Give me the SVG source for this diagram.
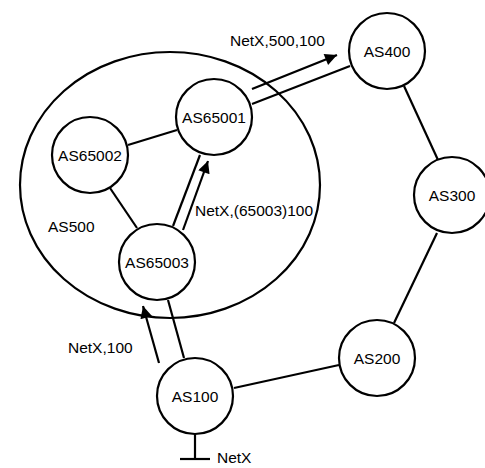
<svg xmlns="http://www.w3.org/2000/svg" width="485" height="468" viewBox="0 0 485 468">
<style>
.n{fill:#fff;stroke:#000;stroke-width:2.2}
.l{fill:none;stroke:#000;stroke-width:2.2}
text{font-family:"Liberation Sans",Arial,sans-serif;font-size:15.5px;fill:#000}
.c{text-anchor:middle;dominant-baseline:central}
</style>
<defs>
<marker id="ah" viewBox="0 0 10 10" refX="10" refY="5" markerWidth="16" markerHeight="12" markerUnits="userSpaceOnUse" orient="auto">
<path d="M0,0 L10,5 L0,10 z" fill="#000"/>
</marker>
</defs>
<g id="AS500">
<ellipse class="l" cx="170" cy="185" rx="150" ry="133"/>
<text x="48" y="232">AS500</text>
</g>
<g id="connectors">
<line class="l" x1="128" y1="145" x2="177" y2="130"/>
<line class="l" x1="110" y1="188" x2="137" y2="228"/>
<line class="l" x1="404" y1="86" x2="438" y2="160"/>
<line class="l" x1="437" y1="233" x2="394" y2="323"/>
<line class="l" x1="234" y1="388" x2="339" y2="365"/>
<line class="l" x1="168" y1="300" x2="184" y2="358"/>
<line class="l" x1="252" y1="104" x2="350" y2="66"/>
<line class="l" x1="173" y1="226" x2="200" y2="155"/>
<line class="l" x1="252" y1="89" x2="337" y2="55" marker-end="url(#ah)"/>
<line class="l" x1="183" y1="230" x2="208" y2="161" marker-end="url(#ah)"/>
<line class="l" x1="159" y1="363" x2="143" y2="306" marker-end="url(#ah)"/>
<line class="l" x1="195" y1="434" x2="195" y2="459"/>
<line class="l" x1="180" y1="459" x2="210" y2="459"/>
</g>
<g id="AS400"><circle class="n" cx="387" cy="51" r="38"/><text class="c" x="387" y="51">AS400</text></g>
<g id="AS65001"><circle class="n" cx="214" cy="117" r="38"/><text class="c" x="214" y="117">AS65001</text></g>
<g id="AS65002"><circle class="n" cx="90" cy="155" r="38"/><text class="c" x="90" y="155">AS65002</text></g>
<g id="AS300"><circle class="n" cx="452" cy="195" r="38"/><text class="c" x="452" y="195">AS300</text></g>
<g id="AS65003"><circle class="n" cx="157" cy="262" r="38"/><text class="c" x="157" y="262">AS65003</text></g>
<g id="AS200"><circle class="n" cx="377" cy="358" r="38"/><text class="c" x="377" y="358">AS200</text></g>
<g id="AS100"><circle class="n" cx="195" cy="396" r="38"/><text class="c" x="195" y="396">AS100</text></g>
<g id="labels">
<text x="230" y="45.5">NetX,500,100</text>
<text x="195" y="215.5">NetX,(65003)100</text>
<text x="68" y="352.5">NetX,100</text>
<text x="217" y="463">NetX</text>
</g>
</svg>
